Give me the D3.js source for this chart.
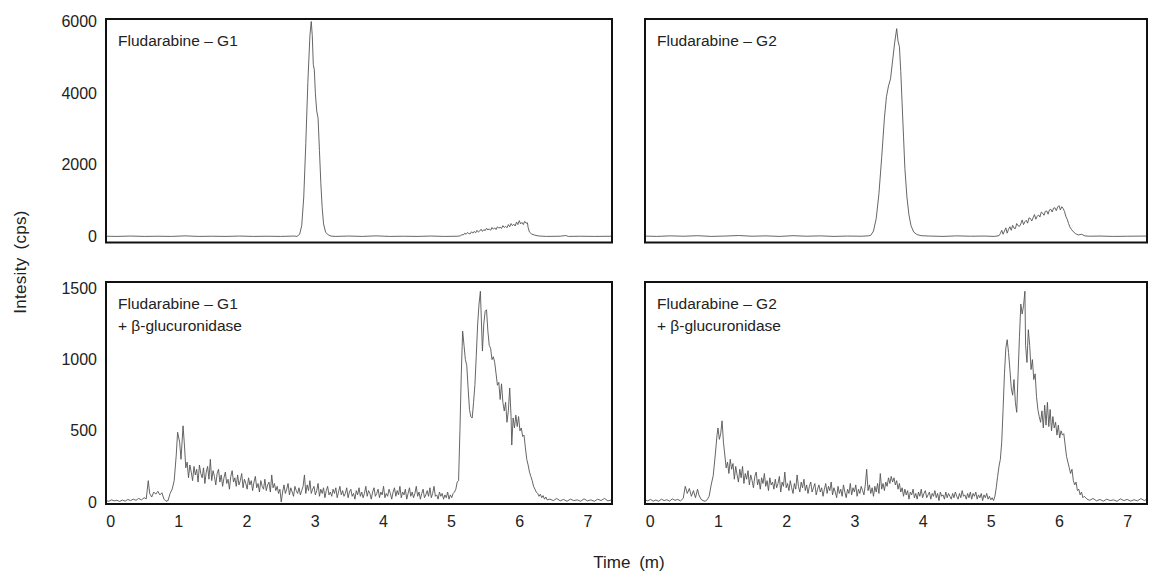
<!DOCTYPE html>
<html>
<head>
<meta charset="utf-8">
<script src="https://cdn.jsdelivr.net/npm/d3@7"></script>
<style>
  body { margin: 0; background: #fff; }
  svg { display: block; font-family: "Liberation Sans", Arial, sans-serif; }
</style>
</head>
<body>
<svg id="chart" width="1153" height="575"></svg>
<script>
// тики осей
var timeTicks = [0, 1, 2, 3, 4, 5, 6, 7];
var topTicks = [0, 2000, 4000, 6000];
var bottomTicks = [0, 500, 1000, 1500];

// подписи панелей
var labelsG1 = ["Fludarabine \u2013 G1"];
var labelsG2 = ["Fludarabine \u2013 G2"];
var labelsG1Enz = ["Fludarabine \u2013 G1", "+ \u03b2-glucuronidase"];
var labelsG2Enz = ["Fludarabine \u2013 G2", "+ \u03b2-glucuronidase"];

// хроматограммы: [время, интенсивность]
var g1 = [[-0.06,5],[0.1,0],[0.3,10],[0.5,0],[0.7,5],[0.9,0],[1.1,15],[1.3,0],[1.5,5],[1.7,0],[1.9,10],[2.1,0],[2.3,5],[2.5,0],[2.7,10],
  [2.74,0],[2.78,60],[2.81,300],[2.84,1100],[2.87,2600],[2.90,4300],[2.93,5600],[2.95,6000],[2.965,5600],[2.98,4800],[2.995,4650],
  [3.01,4000],[3.03,3500],[3.05,3300],[3.07,2400],[3.09,1500],[3.11,800],[3.13,350],[3.16,120],[3.20,40],[3.24,10],[3.3,0],[3.5,10],
  [3.7,0],[3.9,15],[4.1,0],[4.3,5],[4.5,0],[4.7,10],[4.9,0],[5.1,5],[5.14,20],[5.16,50],[5.18,40],[5.20,90],[5.22,60],[5.24,110],
  [5.26,80],[5.28,70],[5.30,130],[5.32,90],[5.34,140],[5.36,100],[5.38,170],[5.40,120],[5.42,150],[5.44,200],[5.46,140],[5.48,190],
  [5.50,160],[5.52,230],[5.54,180],[5.56,210],[5.58,170],[5.60,250],[5.62,200],[5.64,240],[5.66,190],[5.68,270],[5.70,230],[5.72,260],
  [5.74,220],[5.76,300],[5.78,250],[5.80,280],[5.82,240],[5.84,330],[5.86,270],[5.88,360],[5.90,300],[5.92,340],[5.94,290],[5.96,400],
  [5.98,330],[6.00,440],[6.02,350],[6.04,390],[6.06,330],[6.08,420],[6.10,370],[6.12,380],[6.13,250],[6.15,120],[6.18,70],
  [6.22,40],[6.26,20],[6.30,10],[6.4,0],[6.6,5],[6.68,25],[6.72,0],[6.9,5],[7.1,0],[7.36,5]];

var g2 = [[-0.07,10],[0.1,0],[0.3,15],[0.5,5],[0.7,20],[0.9,0],[1.1,10],[1.3,25],[1.5,5],[1.7,15],[1.9,0],[2.1,20],[2.3,5],[2.5,15],
  [2.7,0],[2.9,10],[3.1,5],[3.2,15],[3.24,30],[3.28,150],[3.32,500],[3.36,1200],[3.40,2200],[3.44,3300],[3.47,3900],[3.50,4200],
  [3.53,4400],[3.56,4900],[3.59,5400],[3.62,5800],[3.64,5450],[3.66,5300],[3.68,4600],[3.70,3700],[3.72,2800],[3.74,1900],[3.77,1100],
  [3.80,600],[3.83,300],[3.87,120],[3.92,50],[3.98,20],[4.1,10],[4.3,0],[4.5,15],[4.7,5],[4.9,10],[5.05,0],[5.12,20],[5.14,80],
  [5.16,170],[5.18,60],[5.20,150],[5.22,240],[5.24,90],[5.26,200],[5.28,270],[5.30,170],[5.32,310],[5.34,230],[5.36,220],[5.38,360],
  [5.40,300],[5.42,280],[5.44,350],[5.46,460],[5.48,330],[5.50,410],[5.52,450],[5.54,370],[5.56,520],[5.58,500],[5.60,430],[5.62,520],
  [5.64,610],[5.66,480],[5.68,560],[5.70,600],[5.72,540],[5.74,680],[5.76,650],[5.78,590],[5.80,700],[5.82,710],[5.84,620],[5.86,740],
  [5.88,760],[5.90,680],[5.92,790],[5.94,800],[5.96,720],[5.98,820],[6.00,860],[6.02,740],[6.04,830],[6.06,780],[6.08,700],[6.10,560],
  [6.12,480],[6.14,360],[6.16,260],[6.18,200],[6.21,130],[6.24,80],[6.28,40],[6.33,60],[6.38,15],[6.45,5],[6.6,10],[6.8,0],[7.0,5],[7.29,10]];

var g1Enz = [[-0.06,10],[-0.02,5],[0.02,15],[0.06,8],[0.10,12],[0.14,4],[0.18,14],[0.22,6],[0.26,18],[0.30,10],[0.34,20],[0.38,12],
  [0.42,25],[0.46,15],[0.50,30],[0.53,22],[0.56,150],[0.58,60],[0.61,35],[0.64,70],[0.67,55],[0.70,75],[0.73,50],[0.76,65],[0.79,20],
  [0.82,5],[0.85,10],[0.88,60],[0.91,90],[0.94,150],[0.97,330],[0.99,490],[1.02,420],[1.04,300],[1.07,535],[1.09,400],
  [1.11,240],[1.13,280],[1.15,170],[1.17,260],[1.19,210],[1.21,150],[1.23,250],[1.25,190],[1.27,230],[1.29,140],[1.31,260],[1.33,200],
  [1.35,170],[1.37,240],[1.39,130],[1.41,210],[1.43,250],[1.45,160],[1.47,300],[1.49,150],[1.51,220],[1.53,180],[1.55,120],[1.57,200],
  [1.59,230],[1.61,140],[1.63,190],[1.65,110],[1.67,170],[1.69,210],[1.71,130],[1.73,160],[1.75,90],[1.77,180],[1.79,220],[1.81,140],
  [1.83,170],[1.85,110],[1.87,190],[1.89,120],[1.91,150],[1.93,200],[1.95,100],[1.97,160],[1.99,130],[2.01,90],[2.03,170],[2.05,120],
  [2.07,150],[2.09,80],[2.11,140],[2.13,180],[2.15,100],[2.17,130],[2.19,70],[2.21,150],[2.23,110],[2.25,90],[2.27,160],[2.29,80],
  [2.31,120],[2.33,140],[2.35,70],[2.37,190],[2.39,100],[2.41,130],[2.43,80],[2.45,110],[2.47,60],[2.49,90],
  [2.51,0],[2.53,70],[2.55,120],[2.57,60],[2.59,90],[2.61,130],[2.63,50],[2.65,100],[2.67,70],[2.69,40],[2.71,110],[2.73,80],[2.75,60],
  [2.77,100],[2.79,50],[2.81,80],[2.83,110],[2.85,190],[2.87,60],[2.89,120],[2.91,80],[2.93,150],[2.95,60],[2.97,90],[2.99,110],
  [3.01,50],[3.03,80],[3.05,130],[3.07,40],[3.09,90],[3.11,60],[3.13,100],[3.15,30],[3.17,80],[3.19,110],[3.21,50],[3.23,70],[3.25,40],
  [3.27,90],[3.29,60],[3.31,100],[3.33,30],[3.35,70],[3.37,110],[3.39,50],[3.41,80],[3.43,40],[3.45,60],[3.47,100],[3.49,30],[3.51,70],
  [3.53,90],[3.55,40],[3.57,60],[3.59,20],[3.61,80],[3.63,50],[3.65,100],[3.67,40],[3.69,70],[3.71,30],[3.73,60],[3.75,110],[3.77,40],
  [3.79,80],[3.81,60],[3.83,20],[3.85,70],[3.87,100],[3.89,40],[3.91,60],[3.93,90],[3.95,30],[3.97,70],[3.99,50],[4.01,110],[4.03,30],
  [4.05,60],[4.07,40],[4.09,90],[4.11,60],[4.13,20],[4.15,70],[4.17,100],[4.19,40],[4.21,80],[4.23,50],[4.25,110],[4.27,30],[4.29,70],
  [4.31,50],[4.33,90],[4.35,20],[4.37,60],[4.39,100],[4.41,40],[4.43,70],[4.45,30],[4.47,60],[4.49,110],[4.51,40],[4.53,70],[4.55,20],
  [4.57,60],[4.59,90],[4.61,30],[4.63,50],[4.65,80],[4.67,40],[4.69,100],[4.71,30],[4.73,60],[4.75,110],[4.77,40],[4.79,50],[4.81,20],
  [4.83,70],[4.85,40],[4.87,60],[4.89,20],[4.91,50],[4.93,30],[4.95,70],[4.97,20],[4.99,50],[5.01,30],[5.03,60],[5.05,70],[5.07,90],
  [5.09,140],[5.11,150],[5.13,500],[5.15,900],[5.17,1200],[5.19,1100],[5.21,1000],[5.23,960],[5.25,800],[5.27,650],[5.29,600],
  [5.31,590],[5.33,700],[5.35,825],[5.37,1030],[5.39,1250],[5.41,1390],[5.43,1480],[5.45,1200],[5.46,1060],[5.48,1250],[5.50,1340],
  [5.52,1350],[5.54,1200],[5.56,1100],[5.58,1080],[5.60,1000],[5.62,1020],[5.64,980],[5.66,900],[5.68,820],[5.70,840],[5.72,720],
  [5.74,830],[5.76,700],[5.78,640],[5.80,700],[5.82,560],[5.84,640],[5.86,800],[5.88,600],[5.89,400],[5.91,590],[5.93,520],[5.95,610],
  [5.97,530],[5.99,600],[6.01,500],[6.03,520],[6.05,460],[6.07,470],[6.09,380],[6.11,300],[6.13,260],[6.15,210],[6.17,180],[6.19,150],
  [6.21,110],[6.23,90],[6.25,70],[6.27,60],[6.29,40],[6.31,55],[6.33,30],[6.35,45],[6.37,20],[6.39,35],[6.41,15],[6.45,20],[6.5,10],
  [6.55,25],[6.6,8],[6.65,18],[6.7,5],[6.75,20],[6.8,10],[6.85,15],[6.9,5],[6.95,22],[7.0,8],[7.05,15],[7.1,5],[7.15,20],[7.2,10],
  [7.25,25],[7.3,8],[7.36,15]];

var g2Enz = [[-0.07,15],[-0.03,8],[0.01,18],[0.05,6],[0.09,14],[0.13,5],[0.17,20],[0.21,10],[0.25,16],[0.29,6],[0.33,22],[0.37,12],
  [0.41,18],[0.45,8],[0.49,25],[0.52,110],[0.55,60],[0.58,95],[0.61,40],[0.64,80],[0.67,30],[0.70,90],[0.72,50],[0.75,20],[0.78,10],
  [0.81,5],[0.84,15],[0.87,40],[0.90,120],[0.93,185],[0.96,330],[0.985,465],[1.00,520],[1.02,440],[1.04,480],[1.06,570],[1.08,420],
  [1.10,330],[1.12,240],[1.14,280],[1.16,200],[1.18,300],[1.20,230],[1.22,270],[1.24,160],[1.26,250],[1.28,190],[1.30,140],[1.32,230],
  [1.34,170],[1.36,250],[1.38,130],[1.40,200],[1.42,160],[1.44,220],[1.46,120],[1.48,190],[1.50,150],[1.52,100],[1.54,180],[1.56,210],
  [1.58,120],[1.60,160],[1.62,90],[1.64,170],[1.66,130],[1.68,200],[1.70,110],[1.72,150],[1.74,80],[1.76,170],[1.78,120],[1.80,140],
  [1.82,90],[1.84,160],[1.86,100],[1.88,130],[1.90,180],[1.92,70],[1.94,140],[1.96,110],[1.98,210],[2.00,100],[2.02,130],[2.04,80],
  [2.06,150],[2.08,100],[2.10,60],[2.12,130],[2.14,90],[2.16,190],[2.18,110],[2.20,70],[2.22,140],[2.24,100],[2.26,160],[2.28,80],
  [2.30,120],[2.32,60],[2.34,110],[2.36,140],[2.38,70],[2.40,100],[2.42,130],[2.44,50],[2.46,90],[2.48,120],[2.50,70],[2.52,100],
  [2.54,40],[2.56,90],[2.58,130],[2.60,60],[2.62,110],[2.64,80],[2.66,140],[2.68,50],[2.70,100],[2.72,70],[2.74,30],[2.76,110],
  [2.78,60],[2.80,90],[2.82,40],[2.84,120],[2.86,70],[2.88,30],[2.90,90],[2.92,60],[2.94,130],[2.96,50],[2.98,100],[3.00,70],
  [3.02,120],[3.04,40],[3.06,90],[3.08,60],[3.10,110],[3.12,80],[3.14,50],[3.16,120],[3.18,230],[3.20,80],[3.22,120],[3.24,60],
  [3.26,100],[3.28,40],[3.30,110],[3.32,70],[3.34,130],[3.36,60],[3.38,200],[3.40,90],[3.42,130],[3.44,80],[3.46,140],[3.48,110],
  [3.50,170],[3.52,130],[3.54,180],[3.56,140],[3.58,170],[3.60,120],[3.62,150],[3.64,90],[3.66,130],[3.68,70],[3.70,100],[3.72,40],
  [3.74,90],[3.76,50],[3.78,80],[3.80,20],[3.82,70],[3.84,50],[3.86,90],[3.88,30],[3.90,60],[3.92,20],[3.94,70],[3.96,40],[3.98,90],
  [4.00,30],[4.02,60],[4.04,80],[4.06,30],[4.08,50],[4.10,70],[4.12,20],[4.14,60],[4.16,40],[4.18,80],[4.20,30],[4.22,60],[4.24,10],
  [4.26,70],[4.28,40],[4.30,50],[4.32,20],[4.34,70],[4.36,30],[4.38,60],[4.40,40],[4.42,20],[4.44,60],[4.46,30],[4.48,70],[4.50,40],
  [4.52,20],[4.54,60],[4.56,30],[4.58,80],[4.60,40],[4.62,50],[4.64,20],[4.66,60],[4.68,30],[4.70,70],[4.72,20],[4.74,60],[4.76,40],
  [4.78,70],[4.80,20],[4.82,50],[4.84,30],[4.86,60],[4.88,10],[4.90,50],[4.92,30],[4.94,60],[4.96,20],[4.98,40],[5.00,15],[5.02,30],
  [5.04,10],[5.06,40],[5.08,100],[5.10,180],[5.12,250],[5.14,300],[5.16,420],[5.18,650],[5.20,900],[5.22,1080],[5.24,1140],[5.26,1050],
  [5.28,930],[5.30,800],[5.32,750],[5.34,860],[5.36,700],[5.38,630],[5.40,900],[5.42,1160],[5.44,1390],[5.46,1320],[5.48,1380],
  [5.50,1480],[5.51,1100],[5.53,980],[5.55,1210],[5.57,1100],[5.59,930],[5.61,1000],[5.63,860],[5.65,900],[5.67,740],[5.69,650],
  [5.71,600],[5.73,560],[5.75,640],[5.77,520],[5.79,680],[5.81,540],[5.83,700],[5.85,530],[5.87,650],[5.89,500],[5.91,600],[5.93,520],
  [5.95,560],[5.97,470],[5.99,540],[6.01,450],[6.03,500],[6.05,470],[6.07,480],[6.09,400],[6.11,320],[6.13,280],[6.15,240],[6.17,200],
  [6.19,230],[6.21,150],[6.23,120],[6.25,140],[6.27,80],[6.29,90],[6.31,50],[6.33,70],[6.35,30],[6.37,40],[6.41,20],[6.45,12],[6.5,25],
  [6.55,8],[6.6,18],[6.65,6],[6.7,20],[6.75,10],[6.8,15],[6.85,5],[6.9,22],[6.95,10],[7.0,18],[7.05,6],[7.1,16],[7.15,8],[7.2,24],
  [7.25,10],[7.29,20]];

var svg = d3.select("#chart");
var sFont = "Liberation Sans, Arial, sans-serif";
var sLine = "#555";

// описание панелей
var aPanels = [
  { data: g1, labels: labelsG1, x: [106, 612], y: [19, 242.5], tDom: [-0.06, 7.36], yDom: [-170, 6070], yTicks: topTicks, showY: true, showX: false, id: "p1" },
  { data: g2, labels: labelsG2, x: [645, 1147], y: [19, 242.5], tDom: [-0.07, 7.29], yDom: [-170, 6070], yTicks: topTicks, showY: false, showX: false, id: "p2" },
  { data: g1Enz, labels: labelsG1Enz, x: [106, 612], y: [282, 504], tDom: [-0.06, 7.36], yDom: [-14, 1545], yTicks: bottomTicks, showY: true, showX: true, id: "p3" },
  { data: g2Enz, labels: labelsG2Enz, x: [645, 1147], y: [282, 504], tDom: [-0.07, 7.29], yDom: [-14, 1545], yTicks: bottomTicks, showY: false, showX: true, id: "p4" }
];

aPanels.forEach(function(p) {
  var xScale = d3.scaleLinear().domain(p.tDom).range(p.x);
  var yScale = d3.scaleLinear().domain(p.yDom).range([p.y[1], p.y[0]]);

  svg.append("clipPath").attr("id", "clip-" + p.id)
    .append("rect")
    .attr("x", p.x[0]).attr("y", p.y[0])
    .attr("width", p.x[1] - p.x[0]).attr("height", p.y[1] - p.y[0]);

  // линия хроматограммы
  var line = d3.line()
    .x(d => xScale(d[0]))
    .y(d => yScale(d[1]));

  svg.append("path")
    .datum(p.data)
    .attr("clip-path", "url(#clip-" + p.id + ")")
    .attr("fill", "none")
    .attr("stroke", sLine)
    .attr("stroke-width", 0.9)
    .attr("stroke-linejoin", "round")
    .attr("d", line);

  // рамка
  svg.append("rect")
    .attr("x", p.x[0]).attr("y", p.y[0])
    .attr("width", p.x[1] - p.x[0]).attr("height", p.y[1] - p.y[0])
    .attr("fill", "none")
    .attr("stroke", "#111")
    .attr("stroke-width", 2);

  // ось y
  if (p.showY) {
    var gy = svg.append("g")
      .attr("transform", `translate(${p.x[0]}, 0)`)
      .call(d3.axisLeft(yScale).tickValues(p.yTicks).tickSize(0).tickPadding(9).tickFormat(d3.format("d")));
    gy.select(".domain").remove();
    gy.selectAll("text").attr("font-size", 16).attr("font-family", sFont).attr("fill", "#222");
  }

  // ось x
  if (p.showX) {
    var gx = svg.append("g")
      .attr("transform", `translate(0, ${p.y[1]})`)
      .call(d3.axisBottom(xScale).tickValues(timeTicks).tickSize(0).tickPadding(12).tickFormat(d3.format("d")));
    gx.select(".domain").remove();
    gx.selectAll("text").attr("font-size", 16).attr("font-family", sFont).attr("fill", "#222");
  }

  // подпись панели
  svg.append("text")
    .attr("x", p.x[0] + 12)
    .attr("y", p.y[0] + 27)
    .attr("font-size", 15.5)
    .attr("font-family", sFont)
    .attr("fill", "#222")
    .selectAll("tspan")
    .data(p.labels)
    .join("tspan")
    .attr("x", p.x[0] + 12)
    .attr("dy", (d, i) => i ? 22 : 0)
    .text(d => d);
});

// заголовки осей
svg.append("text")
  .attr("transform", "translate(26, 262) rotate(-90)")
  .attr("text-anchor", "middle")
  .attr("font-size", 17)
  .attr("letter-spacing", 0.3)
  .attr("word-spacing", 3)
  .attr("font-family", sFont)
  .attr("fill", "#222")
  .text("Intesity (cps)");

svg.append("text")
  .attr("x", 629)
  .attr("y", 568)
  .attr("text-anchor", "middle")
  .attr("font-size", 17)
  .attr("word-spacing", 4)
  .attr("font-family", sFont)
  .attr("fill", "#222")
  .text("Time (m)");
</script>
</body>
</html>
